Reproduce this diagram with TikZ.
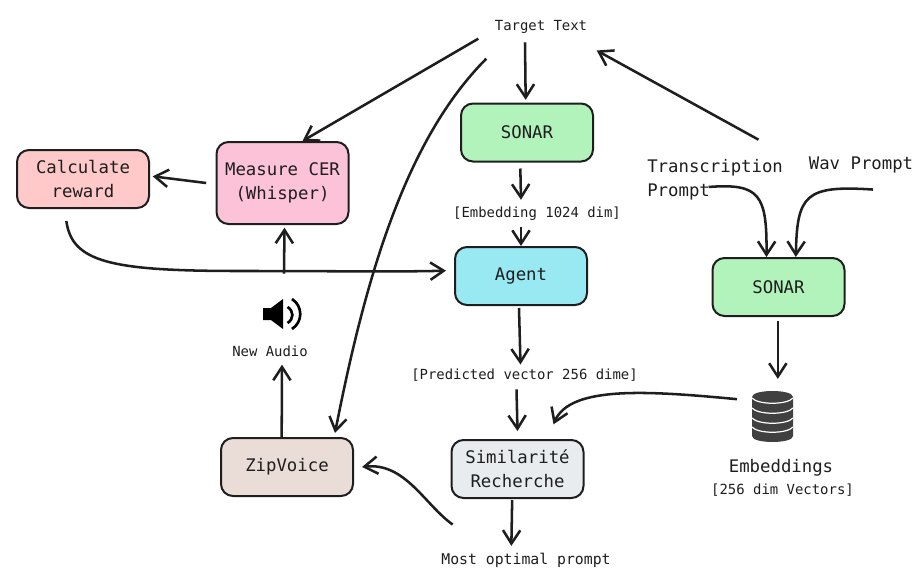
\documentclass[tikz,border=0pt]{standalone}
\usepackage{fontspec}
\setmainfont{DejaVu Sans Mono}
\usetikzlibrary{arrows.meta,calc}
\definecolor{sonargreen}{RGB}{178,242,187}
\definecolor{agentblue}{RGB}{153,233,242}
\definecolor{cerpink}{RGB}{252,194,215}
\definecolor{rewardred}{RGB}{255,201,201}
\definecolor{voicebrown}{RGB}{234,221,215}
\definecolor{searchgrey}{RGB}{233,236,239}
\definecolor{iconink}{RGB}{64,64,64}
\definecolor{inkline}{RGB}{30,30,30}
\tikzset{
  box/.style={draw=inkline,line width=1.5pt,rounded corners=9pt,minimum width=99pt,minimum height=43.5pt,align=center,font=\fontsize{13}{18}\selectfont,text=inkline,inner sep=0pt},
  small/.style={font=\fontsize{10.45}{13}\selectfont,text=inkline,inner sep=0pt},
  large/.style={font=\fontsize{13}{18}\selectfont,text=inkline,inner sep=0pt},
  flow/.style={draw=inkline,line width=1.9pt,-{Straight Barb[length=10pt,width=13pt]}},
}
\begin{document}
\begin{tikzpicture}[x=0.75pt,y=0.75pt,yscale=-1,xscale=1]
\useasboundingbox (0,0) rectangle (918,578);
% Boxes
\node [box,fill=sonargreen] (sonarA) at (527,132.5) {SONAR};
\node [box,fill=agentblue] (agent) at (521,276) {Agent};
\node [box,fill=searchgrey] (search) at (517.5,469) {Similarité\\Recherche};
\node [box,fill=voicebrown] (zipvoice) at (287,467) {ZipVoice};
\node [box,fill=cerpink,minimum height=61.5pt] (measure) at (282.5,183) {Measure CER\\(Whisper)};
\node [box,fill=rewardred] (reward) at (83,179) {Calculate\\reward};
\node [box,fill=sonargreen] (sonarB) at (778.5,287) {SONAR};
% Text
\node [small] (target) at (541,26.5) {Target Text};
\node [small] (embedding) at (537,213.5) {[Embedding 1024 dim]};
\node [small] (predicted) at (524.5,375) {[Predicted vector 256 dime]};
\node [small,font=\fontsize{11.1}{13}\selectfont] (optimal) at (526,560) {Most optimal prompt};
\node [small] (newaudio) at (270,351) {New Audio};
\node [large,align=left,anchor=north west] (transcription) at (647,159) {Transcription\\Prompt};
\node [large] (wav) at (861,164.5) {Wav Prompt};
\node [large] (embeddings) at (781,468) {Embeddings};
\node [small] (vectors) at (782.5,490.5) {[256 dim Vectors]};
% Speaker
\node [minimum width=28.5pt,minimum height=24pt,inner sep=0pt] (speaker) at (282,314) {};
\fill [black] (263,308) -- (271,308) -- (283,299) -- (283,329) -- (271,320) -- (263,320) -- cycle;
\draw [black,line width=2pt] (287.5,307) .. controls (294,311) and (294,319) .. (287.5,323);
\draw [black,line width=2pt] (292,299) .. controls (303,306) and (303,322) .. (292,329);
% Database
\node [minimum width=31pt,minimum height=38pt,inner sep=0pt] (database) at (772.5,416.5) {};
\fill [iconink] (752,397) .. controls (752,389) and (793,389) .. (793,397) -- (793,436) .. controls (793,444) and (752,444) .. (752,436) -- cycle;
\foreach \y in {398,408,418,427}
  \draw [white,line width=0.9pt] (752,\y) .. controls (758,\y+7) and (787,\y+7) .. (793,\y);
% Arrows
\draw [flow] ([xshift=-12pt]target.south) ++(0,9) -- ([xshift=-1pt,yshift=-2pt]sonarA.north);
\draw [flow] ([xshift=-5pt]sonarA.south) ++(0,6) -- ([xshift=-12pt,yshift=-5pt]embedding.north);
\draw [flow] ([xshift=-12pt,yshift=5pt]embedding.south) -- (agent.north);
\draw [flow] ([xshift=-1.5pt]agent.south) ++(0,2) -- ([xshift=-3pt,yshift=-3pt]predicted.north);
\draw [flow] ([xshift=-6pt,yshift=6pt]predicted.south) -- ([yshift=-6pt]search.north);
\draw [flow] ([xshift=-4pt]search.south) ++(0,1) -- ([xshift=-11pt,yshift=-5pt]optimal.north);
\draw [flow] ([xshift=-55pt,yshift=-21pt]optimal.north) .. controls (425,505) and (405,462) .. ([xshift=6pt]zipvoice.east);
\draw [flow] ([xshift=-47pt,yshift=4pt]target.south) -- ([xshift=15pt]measure.north);
\draw [flow] ([xshift=-41pt,yshift=19pt]target.south) .. controls (405,140) and (365,280) .. ([xshift=36pt,yshift=-3pt]zipvoice.north);
\draw [flow] ([xshift=-7pt]measure.west) -- ([xshift=2pt,yshift=-2pt]reward.east);
\draw [flow] ([xshift=1.5pt,yshift=-18pt]speaker.north) -- ([xshift=1.5pt,yshift=2pt]measure.south);
\draw [flow] ([xshift=-4pt]zipvoice.north) -- ([xshift=9pt,yshift=6pt]newaudio.south);
\draw [flow] ([xshift=-12.5pt,yshift=9pt]reward.south) .. controls (72,262) and (110,271) .. (240,271) .. controls (330,271) and (400,272) .. ([xshift=-6pt,yshift=-4pt]agent.west);
\draw [flow] ([xshift=-11pt,yshift=-13pt]database.west) .. controls (650,391) and (570,385) .. ([xshift=27pt,yshift=-11pt]search.north);
\draw [flow] ([xshift=-0.5pt,yshift=3pt]sonarB.south) -- ([xshift=4pt,yshift=-9pt]database.north);
\draw [flow] ([xshift=-56pt,yshift=-10pt]transcription.south east) .. controls (760,183) and (767,195) .. ([xshift=-9pt]sonarB.north);
\draw [flow] ([xshift=9pt,yshift=12.5pt]wav.south) .. controls (805,185) and (797,195) .. ([xshift=13pt]sonarB.north);
\draw [flow] ([xshift=-15pt,yshift=-88pt]sonarB.north) -- ([xshift=7pt,yshift=18pt]target.east);
\end{tikzpicture}
\end{document}
